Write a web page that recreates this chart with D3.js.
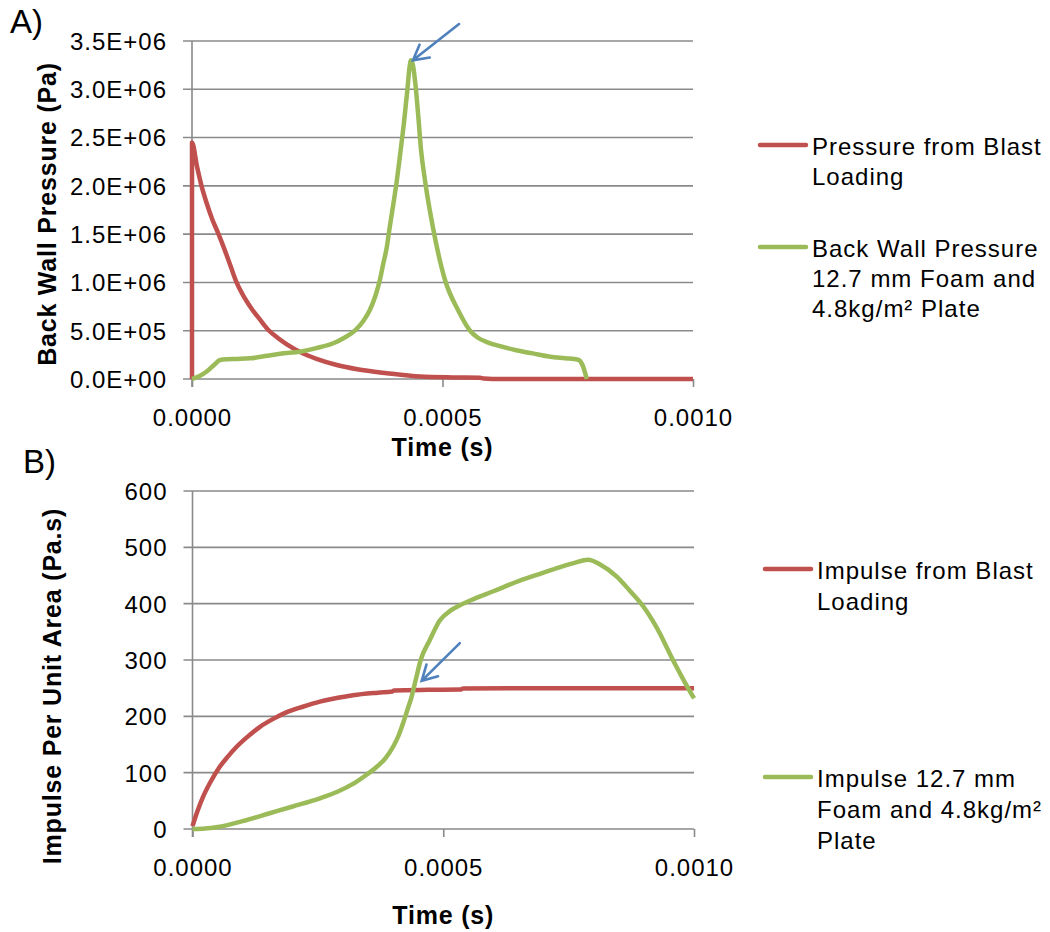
<!DOCTYPE html>
<html>
<head>
<meta charset="utf-8">
<script src="https://cdn.jsdelivr.net/npm/d3@7"></script>
<style>
  body { margin: 0; background: #ffffff; }
  svg { display: block; }
  text { font-family: "Liberation Sans", Arial, sans-serif; fill: #000; }
</style>
</head>
<body>
<svg id="chart" width="1050" height="932"></svg>
<script>
// ---- Panel A: pressure histories (time in microseconds, pressure in Pa) ----
const blastPressure = [
  [0, 0], [0, 2450000], [10, 2200000], [19, 2000000], [30, 1810000], [40, 1660000],
  [53, 1500000], [65, 1340000], [77, 1170000], [89, 1000000], [105, 840000],
  [120, 720000], [135, 620000], [154, 500000], [170, 430000], [190, 357000],
  [216, 280000], [250, 206000], [289, 145000], [330, 101000], [389, 60000],
  [455, 25000], [520, 16000], [575, 13000], [582, 5000], [600, 0], [1000, 0]
];
const backWallPressure = [
  [0, 0], [15, 30000], [30, 80000], [45, 150000], [56, 197000], [70, 205000],
  [90, 208000], [116, 214000], [150, 240000], [176, 262000], [216, 283000],
  [250, 322000], [282, 370000], [305, 430000], [325, 500000], [342, 600000],
  [355, 714000], [366, 860000], [375, 1025000], [382, 1200000], [389, 1370000],
  [394, 1550000], [399, 1716000], [409, 2060000], [416, 2350000], [423, 2650000],
  [430, 3000000], [434, 3220000], [437, 3300000], [441, 3250000], [446, 3050000],
  [452, 2700000], [457, 2380000], [465, 2060000], [482, 1540000], [505, 1025000],
  [531, 714000], [555, 500000], [570, 430000], [590, 380000], [615, 340000],
  [645, 300000], [680, 265000], [715, 231000], [745, 215000], [771, 200000],
  [779, 150000], [788, 0]
];
const pressureTicks = [0, 500000, 1000000, 1500000, 2000000, 2500000, 3000000, 3500000];
const pressureTickLabels = ["0.0E+00", "5.0E+05", "1.0E+06", "1.5E+06", "2.0E+06", "2.5E+06", "3.0E+06", "3.5E+06"];

// ---- Panel B: impulse histories (time in microseconds, impulse in Pa.s) ----
const blastImpulse = [
  [0, 5], [10, 32], [21, 57], [35, 82], [54, 110], [70, 128], [88, 146], [110, 164],
  [134, 181], [160, 195], [187, 207], [220, 217], [254, 226], [290, 233], [320, 237.5],
  [370, 242], [398, 244], [402, 246], [470, 247], [534, 247.5], [540, 249.5],
  [700, 250], [1000, 250]
];
const foamImpulse = [
  [0, 0], [25, 1], [54, 4], [100, 14], [154, 28], [200, 40], [254, 54.5], [290, 66.5],
  [320, 80], [345, 95], [367, 110], [385, 126], [400, 146], [411, 166], [420, 188],
  [428, 210], [437, 235], [446, 268], [455, 300], [473, 335], [493, 370], [515, 388],
  [533, 397], [555, 406], [600, 422], [650, 440], [700, 455], [730, 464], [760, 472],
  [789, 478], [812, 470], [846, 448], [872, 423], [899, 395], [916, 372], [932, 347],
  [948, 318], [965, 288], [982, 260], [1000, 232]
];
const impulseTicks = [0, 100, 200, 300, 400, 500, 600];
const impulseTickLabels = ["0", "100", "200", "300", "400", "500", "600"];

// ---- Shared time axis ----
const timeTicks = [0, 500, 1000];
const timeTickLabels = ["0.0000", "0.0005", "0.0010"];

// ---- Annotation arrows: [time, value] of tail and tip ----
const pressureArrow = { tail: [533, 3676000], tip: [441, 3300000] };
const impulseArrow = { tail: [533, 330], tip: [457, 263] };

const RED = "#C0504D", GREEN = "#9BBB59", BLUE = "#4F81BD", GRID = "#8A8A8A";

const svg = d3.select("#chart");

function drawPanel(cfg) {
  const x = d3.scaleLinear().domain([0, 1000]).range([cfg.left, cfg.right]);
  const y = d3.scaleLinear().domain(cfg.yDomain).range([cfg.bottom, cfg.top]);
  const g = svg.append("g");

  // horizontal gridlines (with left tick stubs)
  g.selectAll("line.grid").data(cfg.yTicks).join("line")
    .attr("x1", cfg.left - 9).attr("x2", cfg.right)
    .attr("y1", d => y(d)).attr("y2", d => y(d))
    .attr("stroke", GRID).attr("stroke-width", 1.6);

  // y axis with labels
  const yAxis = d3.axisLeft(y).tickValues(cfg.yTicks)
    .tickFormat((d, i) => cfg.yLabels[i]).tickSize(0).tickPadding(0);
  const ya = g.append("g").attr("transform", `translate(${cfg.left - 25},0)`).call(yAxis);
  ya.select(".domain").remove();
  ya.selectAll("text")
    .attr("font-size", 24).attr("letter-spacing", "1px")
    .attr("font-family", "Liberation Sans, Arial, sans-serif").attr("fill", "#000")
    .attr("dy", "0.35em");
  g.append("line")
    .attr("x1", cfg.left).attr("x2", cfg.left)
    .attr("y1", cfg.top).attr("y2", cfg.bottom + 8)
    .attr("stroke", GRID).attr("stroke-width", 1.6);

  // x axis ticks + labels
  const xAxis = d3.axisBottom(x).tickValues(timeTicks)
    .tickFormat((d, i) => timeTickLabels[i]).tickSize(8).tickPadding(22);
  const xa = g.append("g").attr("transform", `translate(0,${cfg.bottom})`).call(xAxis);
  xa.select(".domain").remove();
  xa.selectAll(".tick line").attr("stroke", GRID).attr("stroke-width", 1.6);
  xa.selectAll("text")
    .attr("font-size", 24).attr("letter-spacing", "1px")
    .attr("font-family", "Liberation Sans, Arial, sans-serif").attr("fill", "#000")
    .attr("dy", "0.71em");

  // axis titles
  g.append("text")
    .attr("x", (cfg.left + cfg.right) / 2).attr("y", cfg.xTitleY)
    .attr("text-anchor", "middle").attr("font-weight", "bold")
    .attr("font-size", 25).attr("letter-spacing", "0.8px")
    .text("Time (s)");
  g.append("text")
    .attr("transform", `translate(${cfg.yTitleX},${cfg.yTitleCenter}) rotate(-90)`)
    .attr("text-anchor", "middle").attr("font-weight", "bold")
    .attr("font-size", 25).attr("letter-spacing", "0.8px")
    .text(cfg.yTitle);

  // panel tag
  g.append("text").attr("x", cfg.tagX).attr("y", cfg.tagY)
    .attr("font-size", 33).text(cfg.tag);

  // series
  const line = d3.line().x(d => x(d[0])).y(d => y(d[1])).curve(d3.curveMonotoneX);
  cfg.series.forEach(s => {
    g.append("path").datum(s.data).attr("d", line)
      .attr("fill", "none").attr("stroke", s.color).attr("stroke-width", 4.5)
      .attr("stroke-linejoin", "round").attr("stroke-linecap", "butt");
  });

  // arrow annotation
  const tail = [x(cfg.arrow.tail[0]), y(cfg.arrow.tail[1])];
  const tip = [x(cfg.arrow.tip[0]), y(cfg.arrow.tip[1])];
  const ang = Math.atan2(tail[1] - tip[1], tail[0] - tip[0]);
  const headLen = 17, spread = 29 * Math.PI / 180;
  const head = [ang - spread, ang + spread].map(a => [tip[0] + headLen * Math.cos(a), tip[1] + headLen * Math.sin(a)]);
  g.append("path")
    .attr("d", `M${tail[0]},${tail[1]}L${tip[0]},${tip[1]}M${head[0][0]},${head[0][1]}L${tip[0]},${tip[1]}L${head[1][0]},${head[1][1]}`)
    .attr("fill", "none").attr("stroke", BLUE).attr("stroke-width", 2.6)
    .attr("stroke-linecap", "round").attr("stroke-linejoin", "miter");

  // legend
  cfg.legend.forEach(item => {
    g.append("line")
      .attr("x1", cfg.legendX).attr("x2", cfg.legendX + 46)
      .attr("y1", item.lineY).attr("y2", item.lineY)
      .attr("stroke", item.color).attr("stroke-width", 4.5).attr("stroke-linecap", "round");
    const t = g.append("text").attr("x", cfg.legendX + 52).attr("y", item.lineY + 10)
      .attr("font-size", 24).attr("letter-spacing", "1px");
    item.lines.forEach((ln, i) => {
      t.append("tspan").attr("x", cfg.legendX + 52).attr("dy", i === 0 ? 0 : cfg.legendStep).text(ln);
    });
  });
}

drawPanel({
  left: 192, right: 693, top: 41, bottom: 379,
  yDomain: [0, 3500000], yTicks: pressureTicks, yLabels: pressureTickLabels,
  yTitle: "Back Wall Pressure (Pa)", yTitleX: 56, yTitleCenter: 214,
  xTitleY: 456, tag: "A)", tagX: 10, tagY: 33,
  series: [
    { data: blastPressure, color: RED },
    { data: backWallPressure, color: GREEN }
  ],
  arrow: pressureArrow,
  legendX: 760, legendStep: 30,
  legend: [
    { color: RED, lineY: 145, lines: ["Pressure from Blast", "Loading"] },
    { color: GREEN, lineY: 247, lines: ["Back Wall Pressure", "12.7 mm Foam and", "4.8kg/m² Plate"] }
  ]
});

drawPanel({
  left: 192.5, right: 694, top: 491, bottom: 829,
  yDomain: [0, 600], yTicks: impulseTicks, yLabels: impulseTickLabels,
  yTitle: "Impulse Per Unit Area (Pa.s)", yTitleX: 61, yTitleCenter: 686,
  xTitleY: 924, tag: "B)", tagX: 23, tagY: 473,
  series: [
    { data: blastImpulse, color: RED },
    { data: foamImpulse, color: GREEN }
  ],
  arrow: impulseArrow,
  legendX: 765, legendStep: 31,
  legend: [
    { color: RED, lineY: 569, lines: ["Impulse from Blast", "Loading"] },
    { color: GREEN, lineY: 777, lines: ["Impulse 12.7 mm", "Foam and 4.8kg/m²", "Plate"] }
  ]
});
</script>
</body>
</html>
